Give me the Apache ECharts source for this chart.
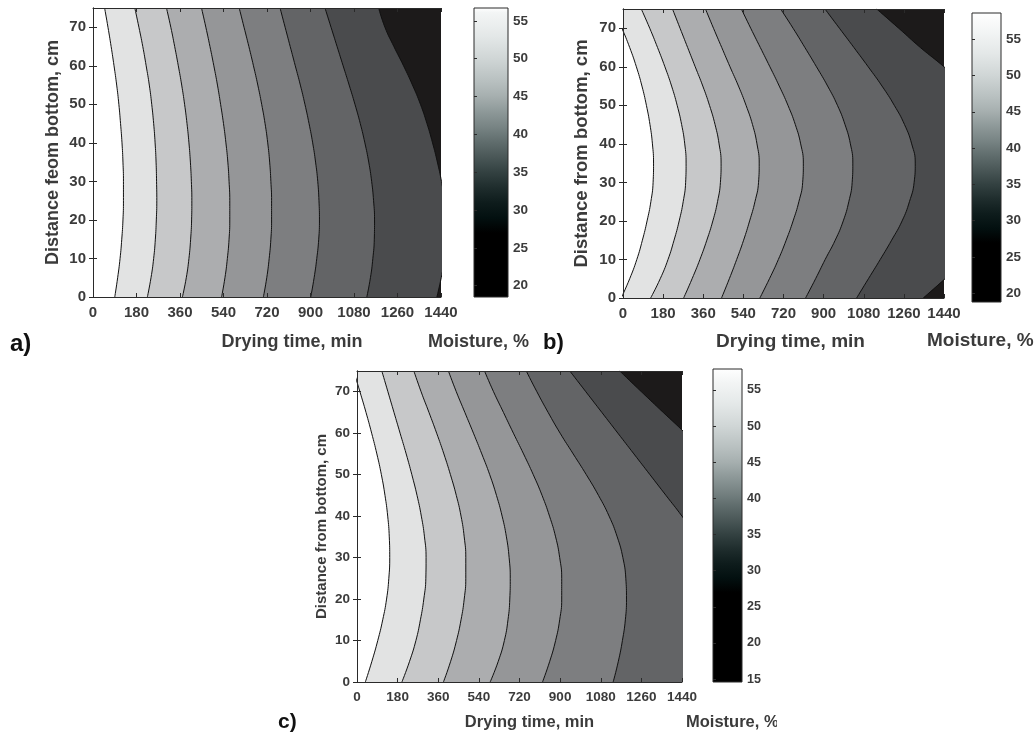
<!DOCTYPE html>
<html>
<head>
<meta charset="utf-8">
<script src="https://cdn.jsdelivr.net/npm/echarts@6.0.0/dist/echarts.min.js"></script>
<style>
    html, body { margin: 0; padding: 0; background: #fff; }
    #main { width: 1035px; height: 740px; }
</style>
</head>
<body>
<div id="main"></div>
<script type="text/javascript">
// heights (cm) at which every contour line is read
var heights = [0, 5, 10, 15, 20, 25, 30, 35, 40, 45, 50, 55, 60, 65, 70, 75];

// drying time (min) of each contour line at every height, left to right
var contoursA = [
    [90, 102, 112, 119, 124, 126, 126, 124, 120, 114, 107, 98, 87, 75, 62, 48],
    [225, 240, 251, 258, 262, 264, 263, 261, 257, 251, 243, 233, 220, 206, 190, 173],
    [370, 386, 397, 404, 408, 409, 407, 403, 397, 389, 379, 367, 353, 338, 322, 304],
    [532, 546, 556, 563, 566, 566, 563, 558, 550, 540, 528, 515, 500, 484, 467, 449],
    [705, 719, 729, 736, 739, 739, 736, 731, 723, 712, 698, 682, 664, 645, 625, 605],
    [901, 915, 926, 934, 937, 935, 930, 921, 909, 894, 877, 858, 837, 816, 795, 774],
    [1133, 1148, 1158, 1164, 1165, 1161, 1153, 1141, 1125, 1106, 1084, 1060, 1035, 1010, 985, 960],
    [1423, 1441, 1455, 1462, 1462, 1455, 1442, 1425, 1405, 1382, 1355, 1322, 1285, 1245, 1208, 1182]
];
var contoursB = [
    [-8, 30, 62, 87, 108, 125, 135, 137, 132, 121, 105, 85, 60, 30, -5, -45],
    [124, 167, 202, 229, 252, 270, 281, 283, 277, 263, 243, 218, 188, 155, 120, 82],
    [272, 310, 345, 376, 403, 424, 437, 440, 431, 413, 388, 358, 324, 290, 256, 222],
    [442, 477, 510, 541, 568, 592, 608, 611, 601, 581, 552, 518, 480, 443, 406, 370],
    [614, 657, 697, 732, 763, 789, 806, 809, 797, 773, 740, 701, 659, 616, 573, 531],
    [819, 864, 907, 952, 988, 1013, 1028, 1031, 1020, 996, 962, 918, 868, 816, 763, 707],
    [1048, 1101, 1154, 1205, 1252, 1285, 1306, 1311, 1295, 1263, 1217, 1162, 1100, 1036, 971, 906],
    [1347, 1445, 1540, 1600, 1640, 1670, 1690, 1700, 1690, 1660, 1610, 1535, 1440, 1334, 1237, 1138]
];
var contoursC = [
    [37, 66, 92, 114, 131, 141, 145, 143, 136, 124, 108, 88, 65, 40, 13, -15],
    [199, 233, 261, 281, 296, 305, 306, 299, 285, 266, 243, 218, 191, 164, 137, 110],
    [383, 415, 441, 461, 475, 482, 482, 475, 461, 440, 414, 385, 353, 319, 284, 252],
    [590, 626, 653, 669, 677, 679, 674, 662, 643, 618, 588, 553, 516, 478, 440, 405],
    [822, 854, 880, 898, 907, 907, 898, 880, 853, 820, 781, 738, 693, 649, 605, 565],
    [1135, 1158, 1176, 1189, 1194, 1191, 1178, 1153, 1117, 1070, 1016, 958, 900, 847, 797, 750],
    [1620, 1625, 1630, 1630, 1620, 1600, 1560, 1505, 1440, 1369, 1298, 1227, 1156, 1085, 1014, 943],
    [1775, 1775, 1775, 1775, 1775, 1770, 1760, 1740, 1710, 1670, 1610, 1540, 1454, 1357, 1260, 1164]
];

// colour bar ranges (moisture, %) and their tick labels
var rangeA = [18.5, 56.7];
var rangeB = [18.8, 58.6];
var rangeC = [14.6, 57.9];
var ticksA = [20, 25, 30, 35, 40, 45, 50, 55];
var ticksB = [20, 25, 30, 35, 40, 45, 50, 55];
var ticksC = [15, 20, 25, 30, 35, 40, 45, 50, 55];

// colormap of the bars
var cmapValues = [10, 27, 29, 31, 33, 35, 37, 39, 41, 43, 45, 47, 50, 53, 56, 60];
var cmapColors = ['#000000', '#000000', '#031010', '#0e1c1c', '#1f2d2d', '#334141', '#4a5757', '#606d6d',
    '#788484', '#8e9999', '#a6afaf', '#b8c0c0', '#d0d6d6', '#e4e8e8', '#f3f5f5', '#ffffff'];

// fill left of each contour line
var bandFills = ['#ffffff', '#e2e3e3', '#c7c8c9', '#acadaf', '#959698', '#7d7e80', '#636466', '#4a4b4d'];
var cornerFill = '#1c1a1a';

var font = 'Liberation Sans, Arial, Helvetica, sans-serif';
var ink = '#3b3b3b';
var axisInk = '#2a2a2a';

var grids = [], xAxes = [], yAxes = [], series = [];

function plain(v) { return '' + v; }

function addPanel(p) {
    var gi = grids.length;
    grids.push({
        left: p.plot[0], top: p.plot[1], width: p.plot[2], height: p.plot[3],
        show: true, backgroundColor: cornerFill, borderWidth: 0
    });
    var lbl = {fontFamily: font, fontWeight: 'bold', fontSize: p.tickSize, color: ink};
    var xi = xAxes.length;
    xAxes.push({
        type: 'value', gridIndex: gi, min: 0, max: 1440, interval: 180, z: 50,
        axisLine: {show: true, lineStyle: {color: axisInk, width: 1}},
        axisTick: {show: true, inside: true, length: 4, lineStyle: {color: axisInk}},
        axisLabel: Object.assign({margin: 8, formatter: plain}, lbl),
        splitLine: {show: false},
        name: 'Drying time, min', nameLocation: 'middle', nameGap: p.xGap,
        nameTextStyle: {fontFamily: font, fontWeight: 'bold', fontSize: p.nameSize, color: ink,
            padding: [0, 0, 0, p.xShift]}
    });
    xAxes.push({
        type: 'value', gridIndex: gi, position: 'top', min: 0, max: 1440, interval: 180, z: 50,
        axisLine: {show: true, lineStyle: {color: axisInk, width: 1}},
        axisTick: {show: true, inside: true, length: 4, lineStyle: {color: axisInk}},
        axisLabel: {show: false}, splitLine: {show: false}
    });
    var yi = yAxes.length;
    yAxes.push({
        type: 'category', gridIndex: gi, data: heights, boundaryGap: false, z: 50,
        axisLine: {show: true, lineStyle: {color: axisInk, width: 1}},
        axisTick: {show: true, inside: true, length: 4, interval: 1, lineStyle: {color: axisInk}},
        axisLabel: Object.assign({interval: 1, margin: 7}, lbl),
        name: p.yName, nameLocation: 'middle', nameGap: p.yGap, nameRotate: 90,
        nameTextStyle: {fontFamily: font, fontWeight: 'bold', fontSize: p.yNameSize, color: ink}
    });
    yAxes.push({
        type: 'category', gridIndex: gi, position: 'right', data: heights, boundaryGap: false, z: 50,
        axisLine: {show: true, lineStyle: {color: axisInk, width: 1}},
        axisTick: {show: true, inside: true, length: 4, interval: 1, lineStyle: {color: axisInk}},
        axisLabel: {show: false}
    });
    var n = p.contours.length;
    for (var k = n - 1; k >= 0; k--) {
        series.push({
            type: 'line', xAxisIndex: xi, yAxisIndex: yi,
            data: p.contours[k], smooth: 0.5, symbol: 'none', clip: true, silent: true,
            z: 2 + (n - k),
            lineStyle: {color: '#101010', width: 1},
            areaStyle: {color: bandFills[k], opacity: 1, origin: 'start'}
        });
    }

    // colour bar
    var cg = grids.length;
    grids.push({left: p.bar[0], top: p.bar[1], width: p.bar[2], height: p.bar[3]});
    var cxi = xAxes.length;
    xAxes.push({type: 'value', gridIndex: cg, min: 0, max: 1, show: false});
    var cyi = yAxes.length;
    var lo = p.range[0], hi = p.range[1];
    yAxes.push({
        type: 'value', gridIndex: cg, position: 'right', min: lo, max: hi, z: 50,
        axisLine: {show: false},
        axisTick: {show: true, customValues: p.ticks, length: 3, lineStyle: {color: axisInk}},
        axisLabel: {customValues: p.ticks, margin: 5, fontFamily: font, fontWeight: 'bold',
            fontSize: p.barTickSize, color: ink},
        splitLine: {show: false}
    });
    var stops = [];
    for (var i = 0; i < cmapValues.length; i++) {
        var off = (cmapValues[i] - lo) / (hi - lo);
        stops.push({offset: Math.max(0, Math.min(1, off)), color: cmapColors[i]});
    }
    series.push({
        type: 'custom', xAxisIndex: cxi, yAxisIndex: cyi, silent: true,
        data: [[0, 1, lo, hi]],
        renderItem: function (params, api) {
            var p0 = api.coord([api.value(0), api.value(2)]);
            var p1 = api.coord([api.value(1), api.value(3)]);
            return {
                type: 'rect',
                shape: {x: p0[0], y: p1[1], width: p1[0] - p0[0], height: p0[1] - p1[1]},
                style: {
                    fill: new echarts.graphic.LinearGradient(0, 1, 0, 0, stops),
                    stroke: axisInk, lineWidth: 1
                }
            };
        }
    });
}

addPanel({
    plot: [93, 8, 348, 289], bar: [474, 8, 34, 289], contours: contoursA,
    range: rangeA, ticks: ticksA, tickSize: 15, barTickSize: 13.5,
    nameSize: 18, xGap: 36, xShift: 50,
    yName: 'Distance feom bottom, cm', yNameSize: 18, yGap: 31
});
addPanel({
    plot: [623, 9, 321, 289], bar: [972, 13, 29, 289], contours: contoursB,
    range: rangeB, ticks: ticksB, tickSize: 15, barTickSize: 13.5,
    nameSize: 19, xGap: 34, xShift: 14,
    yName: 'Distance from bottom, cm', yNameSize: 18.5, yGap: 32
});
addPanel({
    plot: [357, 371, 325, 311], bar: [713, 369, 29, 313], contours: contoursC,
    range: rangeC, ticks: ticksC, tickSize: 13.5, barTickSize: 12.5,
    nameSize: 16.5, xGap: 32, xShift: 20,
    yName: 'Distance from bottom, cm', yNameSize: 15, yGap: 28
});

function label(txt, x, y, size, color) {
    return {
        type: 'text', x: x, y: y, z: 20,
        style: {text: txt, font: 'bold ' + size + 'px ' + font, fill: color,
            align: 'left', verticalAlign: 'middle'}
    };
}

var myChart = echarts.init(document.getElementById('main'));
var option = {
    animation: false,
    backgroundColor: '#ffffff',
    grid: grids,
    xAxis: xAxes,
    yAxis: yAxes,
    series: series,
    graphic: [
        label('a)', 10, 344, 24, '#111'),
        label('b)', 543, 343, 22, '#111'),
        label('c)', 278, 722, 21, '#111'),
        label('Moisture, %', 428, 342, 18, ink),
        label('Moisture, %', 927, 341, 19, ink),
        label('Moisture, %', 686, 722, 16.5, ink),
        // the reference is cropped right after the third label
        {type: 'rect', z: 21, shape: {x: 777, y: 708, width: 40, height: 30}, style: {fill: '#ffffff'}}
    ]
};
myChart.setOption(option);
</script>
</body>
</html>
